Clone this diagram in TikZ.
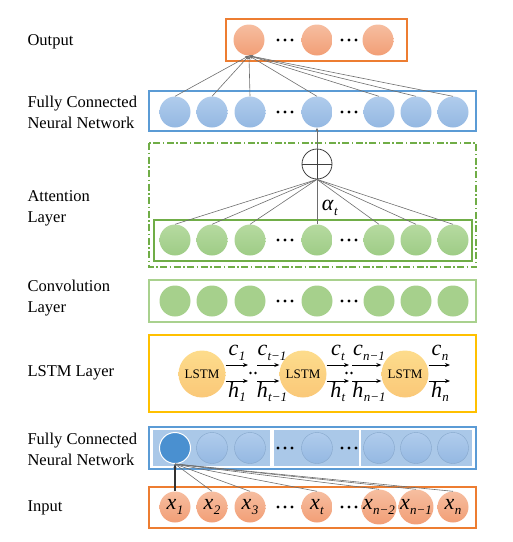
\documentclass[tikz,border=0pt]{standalone}
\usepackage{fontspec}
\setmainfont{Liberation Serif}
\usetikzlibrary{arrows.meta}
\definecolor{oTop}{RGB}{246,190,160}
\definecolor{oBot}{RGB}{242,158,118}
\definecolor{bTop}{RGB}{176,204,236}
\definecolor{bBot}{RGB}{148,184,226}
\definecolor{gTop}{RGB}{182,218,160}
\definecolor{gBot}{RGB}{158,204,134}
\definecolor{gConv}{RGB}{166,208,140}
\definecolor{yTop}{RGB}{253,220,140}
\definecolor{yBot}{RGB}{250,200,120}
\definecolor{boxO}{RGB}{237,125,49}
\definecolor{boxB}{RGB}{91,155,213}
\definecolor{boxG}{RGB}{112,173,71}
\definecolor{boxLG}{RGB}{169,209,142}
\definecolor{boxY}{RGB}{255,192,0}
\definecolor{fcFill}{RGB}{170,200,232}
\definecolor{fcDark}{RGB}{74,144,208}
\definecolor{lineG}{RGB}{110,110,110}
\newcommand\vlab[2]{\textit{#1}\kern0.3pt\raisebox{-4.5pt}{\fontsize{13}{13}\selectfont\textit{#2}}}
\tikzset{
  lbl/.style={anchor=west, align=left, font=\fontsize{16.5}{21}\selectfont},
  ncirc/.style={circle, minimum size=31pt, inner sep=0pt, draw=none},
  ocirc/.style={ncirc, top color=oTop, bottom color=oBot},
  icirc/.style={ocirc, font=\fontsize{22}{24}\selectfont},
  bcirc/.style={ncirc, top color=bTop, bottom color=bBot},
  gcirc/.style={ncirc, top color=gTop, bottom color=gBot},
  ccirc/.style={ncirc, fill=gConv},
  fcirc/.style={ncirc, top color=bTop, bottom color=bBot, draw=bBot!90!black, line width=0.4pt},
  lcirc/.style={circle, minimum size=47pt, inner sep=0pt, top color=yTop, bottom color=yBot, font=\fontsize{13}{15}\selectfont},
  layerbox/.style={line width=1.4pt},
  conn/.style={draw=lineG, line width=0.6pt},
  tip/.style={-{Stealth[length=4pt,width=3pt]}},
  lstmarrow/.style={-{Stealth[length=5pt,width=4pt]}, line width=1pt},
  mlab/.style={font=\fontsize{22}{24}\selectfont, inner sep=0pt},
  tridots/.pic={\fill (-7,0) circle (1.6pt) (0,0) circle (1.6pt) (7,0) circle (1.6pt);},
  twodots/.pic={\fill (-2.5,0) circle (1.4pt) (2.5,0) circle (1.4pt);}
}
\begin{document}
\begin{tikzpicture}[x=1pt,y=-1pt]
\useasboundingbox (0,0) rectangle (513,542);

% left labels
\node[lbl] (lOut) at (24,42) {Output};
\node[lbl] (lFC1) at (24,112.5) {Fully Connected\\Neural Network};
\node[lbl] (lAtt) at (24,208.5) {Attention\\Layer};
\node[lbl] (lConv) at (24,298) {Convolution\\Layer};
\node[lbl] (lLSTM) at (24,373) {LSTM Layer};
\node[lbl] (lFC2) at (24,449) {Fully Connected\\Neural Network};
\node[lbl] (lIn) at (24,508) {Input};

% Output layer
\draw[boxO, layerbox] (226,19) rectangle (407,61);
\node[ocirc] (o1) at (249,40) {};
\node[ocirc] (o2) at (317,40) {};
\node[ocirc] (o3) at (378,40) {};
\pic at (285,40) {tridots};
\pic at (349,40) {tridots};

% Top FC layer
\draw[boxB, layerbox] (149,91) rectangle (476,131);
\foreach \i/\x in {1/175,2/212,3/250,4/317,5/379,6/416,7/453}{
  \node[bcirc] (f\i) at (\x,112) {};
}
\pic at (285,112) {tridots};
\pic at (349,112) {tridots};
\foreach \i in {1,...,7}{
  \draw[conn, tip] (f\i.north) -- (o1.south);
}

% Attention layer
\draw[boxG, line width=1.2pt, dash pattern=on 7pt off 2.5pt on 1.5pt off 2.5pt] (149,143) rectangle (476,267);
\node[circle, draw=black!75, line width=0.8pt, minimum size=30pt, inner sep=0pt] (plus) at (317,164) {};
\draw[black!75, line width=0.8pt] (plus.north) -- (plus.south) (plus.west) -- (plus.east);
\draw[conn, tip] (plus.north) -- (f4.south);
\draw[boxG, line width=1.2pt] (154,220) rectangle (472,261);
\foreach \i/\x in {1/175,2/212,3/250,4/317,5/379,6/416,7/453}{
  \node[gcirc] (a\i) at (\x,240) {};
}
\pic at (285,240) {tridots};
\pic at (349,240) {tridots};
\foreach \i in {1,...,7}{
  \draw[conn] (a\i.north) -- (plus.south);
}
\node[mlab] (alpha) at (330,208) {\vlab{α}{t}};

% Convolution layer
\draw[boxLG, layerbox] (149,280) rectangle (476,322);
\foreach \i/\x in {1/175,2/212,3/250,4/317,5/379,6/416,7/453}{
  \node[ccirc] (c\i) at (\x,301) {};
}
\pic at (285,301) {tridots};
\pic at (349,301) {tridots};

% LSTM layer
\draw[boxY, layerbox] (149,335) rectangle (476,412);
\node[lcirc] (L1) at (202,374) {LSTM};
\node[lcirc] (L2) at (303,374) {LSTM};
\node[lcirc] (L3) at (405,374) {LSTM};
\coordinate (c1e) at (248,365); \coordinate (h1e) at (248,381);
\coordinate (c2s) at (257,365); \coordinate (h2s) at (257,381);
\coordinate (c2e) at (349,365); \coordinate (h2e) at (349,381);
\coordinate (c3s) at (352,365); \coordinate (h3s) at (352,381);
\coordinate (c3e) at (450,365); \coordinate (h3e) at (450,381);
\draw[lstmarrow] (L1.east |- c1e) -- (c1e);
\draw[lstmarrow] (L1.east |- h1e) -- (h1e);
\draw[lstmarrow] (c2s) -- (L2.west |- c2s);
\draw[lstmarrow] (h2s) -- (L2.west |- h2s);
\draw[lstmarrow] (L2.east |- c2e) -- (c2e);
\draw[lstmarrow] (L2.east |- h2e) -- (h2e);
\draw[lstmarrow] (c3s) -- (L3.west |- c3s);
\draw[lstmarrow] (h3s) -- (L3.west |- h3s);
\draw[lstmarrow] (L3.east |- c3e) -- (c3e);
\draw[lstmarrow] (L3.east |- h3e) -- (h3e);
\pic at (253,373) {twodots};
\pic at (349,373) {twodots};
\node[mlab] (lc1) at (237,353) {\vlab{c}{1}};
\node[mlab] (lh1) at (237,392) {\vlab{h}{1}};
\node[mlab] (lc2) at (272,353) {\vlab{c}{t−1}};
\node[mlab] (lh2) at (272,392) {\vlab{h}{t−1}};
\node[mlab] (lc3) at (338,353) {\vlab{c}{t}};
\node[mlab] (lh3) at (338,392) {\vlab{h}{t}};
\node[mlab] (lc4) at (369,353) {\vlab{c}{n−1}};
\node[mlab] (lh4) at (369,392) {\vlab{h}{n−1}};
\node[mlab] (lc5) at (440,353) {\vlab{c}{n}};
\node[mlab] (lh5) at (440,392) {\vlab{h}{n}};

% Bottom FC layer
\draw[boxB, layerbox] (149,427) rectangle (476,469);
\fill[fcFill] (153,430) rectangle (270,466);
\fill[fcFill] (274,430) rectangle (359,466);
\fill[fcFill] (361,430) rectangle (472,466);
\node[ncirc, fill=fcDark, draw=white, line width=1pt] (b1) at (175,448) {};
\foreach \i/\x in {2/212,3/250,4/317,5/379,6/416,7/453}{
  \node[fcirc] (b\i) at (\x,448) {};
}
\pic at (285,448) {tridots};
\pic at (349,448) {tridots};

% Input layer
\draw[boxO, layerbox] (149,487) rectangle (476,528);
\node[icirc] (x1) at (175,507) {\vlab{x}{1}};
\node[icirc] (x2) at (212,507) {\vlab{x}{2}};
\node[icirc] (x3) at (250,507) {\vlab{x}{3}};
\node[icirc] (x4) at (317,507) {\vlab{x}{t}};
\node[icirc] (x5) at (379,507) {\vlab{x}{n−2}};
\node[icirc] (x6) at (416,507) {\vlab{x}{n−1}};
\node[icirc] (x7) at (453,507) {\vlab{x}{n}};
\pic at (285,507) {tridots};
\pic at (349,507) {tridots};
\draw[draw=black!80, line width=1.1pt, tip] (x1.north) -- (b1.south);
\foreach \i in {2,...,7}{
  \draw[conn] (x\i.north) -- (b1.south);
}
\end{tikzpicture}
\end{document}
